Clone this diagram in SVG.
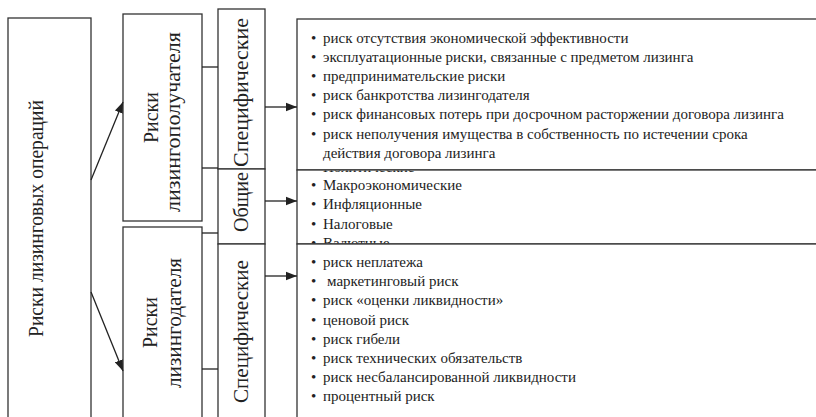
<svg xmlns="http://www.w3.org/2000/svg" width="816" height="417" viewBox="0 0 816 417">
<style>
.box{fill:#fff;stroke:#333;stroke-width:1.3}
.lbl{font-family:'Liberation Serif','Tinos','Times New Roman','DejaVu Serif',serif;fill:#222;text-anchor:middle}
.it{font-family:'Liberation Serif','Tinos','Times New Roman','DejaVu Serif',serif;font-size:15px;fill:#222}
.bul{font-family:'Liberation Serif','Tinos','Times New Roman','DejaVu Serif',serif;font-size:15px;fill:#222}
.ln{stroke:#222;stroke-width:1.3;fill:none}
</style>
<defs>
<marker id="ah" markerUnits="userSpaceOnUse" markerWidth="12" markerHeight="10" refX="11" refY="5" orient="auto">
<path d="M0,0.8 L11,5 L0,9.2 Z" fill="#222"/>
</marker>
<clipPath id="cGen"><rect x="297" y="170.6" width="519" height="73"/></clipPath>
</defs>

<g id="root">
<rect class="box" x="8" y="18" width="83" height="450"/>
<text class="lbl" font-size="21" transform="translate(43,218.5) rotate(-90)" textLength="237" lengthAdjust="spacingAndGlyphs">Риски лизинговых операций</text>
</g>

<g id="lessee">
<rect class="box" x="123" y="14" width="79" height="207"/>
<text class="lbl" font-size="21" transform="translate(158,117.5) rotate(-90)" textLength="51" lengthAdjust="spacingAndGlyphs">Риски</text>
<text class="lbl" font-size="21" transform="translate(180,122) rotate(-90)" textLength="180" lengthAdjust="spacingAndGlyphs">лизингополучателя</text>
</g>

<g id="lessor">
<rect class="box" x="123" y="227" width="79" height="250"/>
<text class="lbl" font-size="21" transform="translate(157,322.5) rotate(-90)" textLength="51" lengthAdjust="spacingAndGlyphs">Риски</text>
<text class="lbl" font-size="21" transform="translate(181,323) rotate(-90)" textLength="130" lengthAdjust="spacingAndGlyphs">лизингодателя</text>
</g>

<g id="spec1">
<rect class="box" x="218" y="9" width="47" height="160"/>
<text class="lbl" font-size="21" transform="translate(248,92.5) rotate(-90)" textLength="149" lengthAdjust="spacingAndGlyphs">Специфические</text>
</g>

<g id="general">
<rect class="box" x="218" y="169" width="47" height="75"/>
<text class="lbl" font-size="21" transform="translate(248,202) rotate(-90)" textLength="60" lengthAdjust="spacingAndGlyphs">Общие</text>
</g>

<g id="spec2">
<rect class="box" x="218" y="244" width="47" height="250"/>
<text class="lbl" font-size="21" transform="translate(248,331.5) rotate(-90)" textLength="143" lengthAdjust="spacingAndGlyphs">Специфические</text>
</g>

<g id="list1">
<rect class="box" x="297" y="19" width="600" height="151"/>
<text class="bul" x="311" y="42.5">•</text><text class="it" x="323" y="42.5">риск отсутствия экономической эффективности</text>
<text class="bul" x="311" y="61.7">•</text><text class="it" x="323" y="61.7">эксплуатационные риски, связанные с предметом лизинга</text>
<text class="bul" x="311" y="80.9">•</text><text class="it" x="323" y="80.9">предпринимательские риски</text>
<text class="bul" x="311" y="100.1">•</text><text class="it" x="323" y="100.1">риск банкротства лизингодателя</text>
<text class="bul" x="311" y="119.3">•</text><text class="it" x="323" y="119.3">риск финансовых потерь при досрочном расторжении договора лизинга</text>
<text class="bul" x="311" y="138.5">•</text><text class="it" x="323" y="138.5">риск неполучения имущества в собственность по истечении срока</text>
<text class="it" x="323" y="157.7">действия договора лизинга</text>
</g>

<g id="list2">
<rect class="box" x="297" y="170" width="600" height="74"/>
<g clip-path="url(#cGen)">
<text class="it" x="323" y="172">Политические</text>
<text class="bul" x="311" y="190.2">•</text><text class="it" x="323" y="190.2">Макроэкономические</text>
<text class="bul" x="311" y="209.4">•</text><text class="it" x="323" y="209.4">Инфляционные</text>
<text class="bul" x="311" y="228.6">•</text><text class="it" x="323" y="228.6">Налоговые</text>
<text class="bul" x="311" y="247.8">•</text><text class="it" x="323" y="247.8">Валютные</text>
</g>
</g>

<g id="list3">
<rect class="box" x="297" y="244" width="600" height="250"/>
<text class="bul" x="311" y="267">•</text><text class="it" x="323" y="267">риск неплатежа</text>
<text class="bul" x="311" y="286.2">•</text><text class="it" x="327" y="286.2">маркетинговый риск</text>
<text class="bul" x="311" y="305.4">•</text><text class="it" x="323" y="305.4">риск «оценки ликвидности»</text>
<text class="bul" x="311" y="324.6">•</text><text class="it" x="323" y="324.6">ценовой риск</text>
<text class="bul" x="311" y="343.8">•</text><text class="it" x="323" y="343.8">риск гибели</text>
<text class="bul" x="311" y="363">•</text><text class="it" x="323" y="363">риск технических обязательств</text>
<text class="bul" x="311" y="382.2">•</text><text class="it" x="323" y="382.2">риск несбалансированной ликвидности</text>
<text class="bul" x="311" y="401.4">•</text><text class="it" x="323" y="401.4">процентный риск</text>
</g>

<g id="connectors">
<line class="ln" x1="91" y1="180" x2="123" y2="102" marker-end="url(#ah)"/>
<line class="ln" x1="91" y1="292" x2="123" y2="371" marker-end="url(#ah)"/>
<line class="ln" x1="202" y1="67" x2="218" y2="67"/>
<line class="ln" x1="202" y1="168" x2="218" y2="168"/>
<line class="ln" x1="202" y1="233" x2="218" y2="233"/>
<line class="ln" x1="202" y1="369" x2="218" y2="369"/>
<line class="ln" x1="265" y1="107" x2="297" y2="107" marker-end="url(#ah)"/>
<line class="ln" x1="265" y1="201" x2="297" y2="201" marker-end="url(#ah)"/>
<line class="ln" x1="265" y1="276" x2="297" y2="276" marker-end="url(#ah)"/>
</g>
</svg>
